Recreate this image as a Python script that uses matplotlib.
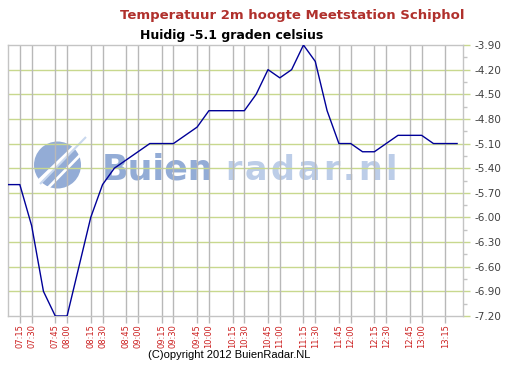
import matplotlib
matplotlib.use("Agg")
import matplotlib.pyplot as plt
from matplotlib.patches import Circle
from matplotlib.lines import Line2D
from matplotlib.transforms import IdentityTransform

# ---- data ----
times = ["07:10", "07:20", "07:30", "07:40", "07:50", "08:00", "08:10", "08:20",
         "08:30", "08:40", "08:50", "09:00", "09:10", "09:20", "09:30", "09:40",
         "09:50", "10:00", "10:10", "10:20", "10:30", "10:40", "10:50", "11:00",
         "11:10", "11:20", "11:30", "11:40", "11:50", "12:00", "12:10", "12:20",
         "12:30", "12:40", "12:50", "13:00", "13:10", "13:20", "13:30"]
temps = [-5.6, -5.6, -6.1, -6.9, -7.2, -7.2, -6.6, -6.0, -5.6, -5.4, -5.3, -5.2,
         -5.1, -5.1, -5.1, -5.0, -4.9, -4.7, -4.7, -4.7, -4.7, -4.5, -4.2, -4.3,
         -4.2, -3.9, -4.1, -4.7, -5.1, -5.1, -5.2, -5.2, -5.1, -5.0, -5.0, -5.0,
         -5.1, -5.1, -5.1]
tick_labels = ["07:15", "07:30", "07:45", "08:00", "08:15", "08:30", "08:45",
               "09:00", "09:15", "09:30", "09:45", "10:00", "10:15", "10:30",
               "10:45", "11:00", "11:15", "11:30", "11:45", "12:00", "12:15",
               "12:30", "12:45", "13:00", "13:15"]
y_ticks = [-3.90, -4.20, -4.50, -4.80, -5.10, -5.40, -5.70, -6.00, -6.30,
           -6.60, -6.90, -7.20]
title = "Temperatuur 2m hoogte Meetstation Schiphol"
subtitle = "Huidig -5.1 graden celsius"
copyright_text = "(C)opyright 2012 BuienRadar.NL"
wm_part1 = "Buien"
wm_part2 = "radar.nl"


def to_min(s):
    h, m = s.split(":")
    return int(h) * 60 + int(m)


# each label sits on the first sample at or after its time (category axis)
tmins = [to_min(t) for t in times]
tick_pos = [next(i for i, tm in enumerate(tmins) if tm >= to_min(lab))
            for lab in tick_labels]

W, H = 513, 371
fig = plt.figure(figsize=(W / 100, H / 100), dpi=100)
fig.patch.set_facecolor("white")
ax = fig.add_axes([8 / W, 1 - 316 / H, 455 / W, 271 / H])
ax.set_facecolor("none")

ax.set_xlim(0, 38.5)
ax.set_ylim(min(y_ticks), max(y_ticks))

# watermark
wm_dark = "#93acd6"
wm_light = "#bccde8"
base_y = 1 - 180 / H
renderer = fig.canvas.get_renderer()
ax.text(102 / W, base_y, wm_part1, transform=fig.transFigure, fontsize=25,
        fontweight="bold", color=wm_dark, ha="left", va="baseline", zorder=0.2)
xpos = 225.0
for ch in wm_part2:
    t = ax.text(xpos / W, base_y, ch, transform=fig.transFigure,
                fontsize=24, fontweight="bold", color=wm_light, ha="left",
                va="baseline", zorder=0.2)
    xpos += t.get_window_extent(renderer).width + 3.2
circ = Circle((57.5, H - 165), 23.5, transform=IdentityTransform(),
              facecolor=wm_dark, edgecolor="none", zorder=0.2)
ax.add_patch(circ)
for (x0, y0, x1, y1, c, lw) in [(34, 186, 86, 136, "white", 3.0),
                                (44, 192, 90, 145, "white", 2.0),
                                (40, 184, 86, 137, "#c9d8ee", 1.5)]:
    ln = Line2D([x0, x1], [H - y0, H - y1], transform=IdentityTransform(),
                color=c, lw=lw, zorder=0.3, solid_capstyle="butt")
    ax.add_line(ln)

# grid
for v in y_ticks[1:-1]:
    ax.axhline(v, color="#c8d88e", lw=1.0, zorder=1)
for p in tick_pos:
    ax.axvline(p, color="#b8b8b8", lw=1.0, zorder=1)

ax.plot(range(len(temps)), temps, color="#000098", lw=1.0, zorder=3)

for s in ax.spines.values():
    s.set_color("#c4c4c4")
    s.set_linewidth(1.0)

ax.yaxis.tick_right()
ax.set_yticks(y_ticks)
ax.set_yticklabels([f"{v:.2f}" for v in y_ticks])
mids = [(a + b) / 2 for a, b in zip(y_ticks[:-1], y_ticks[1:])]
ax.set_yticks(mids, minor=True)
ax.tick_params(axis="y", which="major", length=5, width=1, color="#c8d88e",
               pad=3, labelsize=7.5, labelcolor="#404040")
ax.tick_params(axis="y", which="minor", length=3, width=1, color="#c4c4c4")

ax.set_xticks(tick_pos)
ax.set_xticklabels(tick_labels, rotation=90)
ax.tick_params(axis="x", length=5, width=1, color="#b8b8b8", pad=1,
               labelsize=6, labelcolor="#cc2020")

fig.text(292 / W, 1 - 16 / H, title, ha="center", va="center",
         fontsize=9.5, fontweight="bold", color="#b0302c")
fig.text(232 / W, 1 - 36 / H, subtitle, ha="center", va="center",
         fontsize=9, fontweight="bold", color="black")
fig.text(229 / W, 1 - 355 / H, copyright_text, ha="center", va="center",
         fontsize=8, family="Liberation Sans", color="black")

fig.savefig("out.png", dpi=100)
